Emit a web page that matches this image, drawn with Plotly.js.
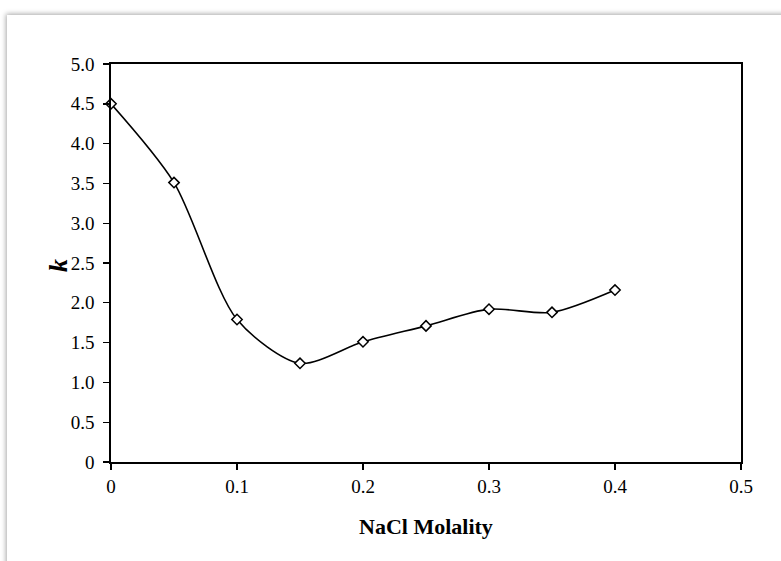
<!DOCTYPE html>
<html>
<head>
<meta charset="utf-8">
<script src="https://cdn.plot.ly/plotly-3.0.1.min.js"></script>
<style>
  html, body { margin: 0; padding: 0; background: #ffffff; width: 781px; height: 561px; overflow: hidden; }
  #frame { position: absolute; left: 7px; top: 15px; width: 820px; height: 600px; background: #ffffff;
           box-shadow: 0 0 5px 1px rgba(0,0,0,0.35); }
  #chart { position: absolute; left: 0; top: 0; width: 781px; height: 561px; }
</style>
</head>
<body>
<div id="frame"></div>
<div id="chart"></div>
<script>
const molality = [0, 0.05, 0.1, 0.15, 0.2, 0.25, 0.3, 0.35, 0.4];
const kValues = [4.5, 3.51, 1.79, 1.24, 1.51, 1.71, 1.92, 1.88, 2.16];
const xTickVals = [0, 0.1, 0.2, 0.3, 0.4, 0.5];
const xTickText = ["0", "0.1", "0.2", "0.3", "0.4", "0.5"];
const yTickVals = [0, 0.5, 1, 1.5, 2, 2.5, 3, 3.5, 4, 4.5, 5];
const yTickText = ["0", "0.5", "1.0", "1.5", "2.0", "2.5", "3.0", "3.5", "4.0", "4.5", "5.0"];
const xTitle = 'NaCl Molality';
const yTitle = 'k';

const trace = {
  x: molality,
  y: kValues,
  type: 'scatter',
  mode: 'lines+markers',
  line: { color: '#000000', width: 1.6, shape: 'spline', smoothing: 0.8 },
  marker: { symbol: 'diamond', size: 8, color: '#ffffff', line: { color: '#000000', width: 1.5 } },
  cliponaxis: false,
  showlegend: false
};

const fontFam = 'Liberation Serif';
const layout = {
  width: 781, height: 561,
  margin: { l: 111, r: 40, t: 64, b: 99 },
  paper_bgcolor: 'rgba(0,0,0,0)',
  plot_bgcolor: 'rgba(0,0,0,0)',
  font: { family: fontFam, color: '#000000', size: 19 },
  xaxis: {
    range: [0, 0.5],
    tickvals: xTickVals, ticktext: xTickText,
    showgrid: false, zeroline: false,
    showline: true, linecolor: '#000000', linewidth: 1.6, mirror: true,
    ticks: 'outside', ticklen: 6, tickwidth: 1.4, tickcolor: '#000000',
    tickfont: { family: fontFam, size: 19, color: '#000000' },
    ticklabelstandoff: 1,
    automargin: false
  },
  yaxis: {
    range: [0, 5],
    tickvals: yTickVals, ticktext: yTickText,
    showgrid: false, zeroline: false,
    showline: true, linecolor: '#000000', linewidth: 1.6, mirror: true,
    ticks: 'outside', ticklen: 6, tickwidth: 1.4, tickcolor: '#000000',
    tickfont: { family: fontFam, size: 19, color: '#000000' },
    ticklabelstandoff: 5,
    automargin: false
  },
  annotations: [
    { text: '<b>' + xTitle + '</b>', xref: 'paper', yref: 'paper', x: 0.5, y: -0.161,
      xanchor: 'center', yanchor: 'middle', showarrow: false,
      font: { family: fontFam, size: 22, color: '#000000' } },
    { text: '<b><i>' + yTitle + '</i></b>', xref: 'paper', yref: 'paper', x: -0.083, y: 0.494,
      xanchor: 'center', yanchor: 'middle', showarrow: false, textangle: -90,
      font: { family: fontFam, size: 26, color: '#000000' } }
  ]
};

Plotly.newPlot('chart', [trace], layout, { displayModeBar: false, staticPlot: true });
</script>
</body>
</html>
